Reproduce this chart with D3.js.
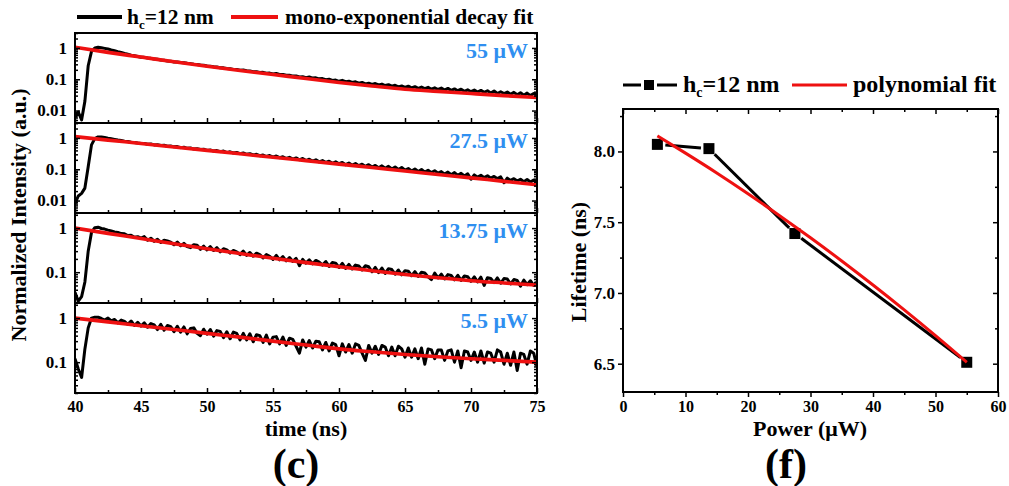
<!DOCTYPE html>
<html>
<head>
<meta charset="utf-8">
<script src="https://cdn.jsdelivr.net/npm/d3@7"></script>
<style>
  html, body { margin: 0; padding: 0; background: #fff; }
  svg text { font-family: "Liberation Serif", "Times New Roman", serif; font-weight: bold; }
</style>
</head>
<body>
<svg id="chart" width="1009" height="486"></svg>
<script>
// ---------------- data ----------------
// TCSPC histogram bins: first bin at 40 ns, 0.25 ns per bin (141 bins to 75 ns)
const decayStart = 40;
const decayStep = 0.25;

const powerLabels = ["55 μW", "27.5 μW", "13.75 μW", "5.5 μW"];

// normalized PL decay, h_c = 12 nm, excitation 55 μW
const decay55 = [
  0.006, 0.009, 0.005, 0.02, 0.27, 0.78, 1.0, 1.05,
  1.02, 0.97, 0.92, 0.86, 0.81, 0.76, 0.72, 0.67, 0.63, 0.59, 0.56, 0.53, 0.50,
  0.50, 0.475, 0.465, 0.44, 0.435, 0.41, 0.405, 0.385, 0.378, 0.356,
  0.358, 0.342, 0.336, 0.322, 0.316, 0.301, 0.296, 0.283, 0.278, 0.264,
  0.262, 0.249, 0.246, 0.234, 0.231, 0.219, 0.218, 0.206, 0.204, 0.194,
  0.196, 0.186, 0.185, 0.175, 0.175, 0.165, 0.166, 0.156, 0.157, 0.147,
  0.152, 0.143, 0.143, 0.134, 0.135, 0.126, 0.128, 0.118, 0.120, 0.112,
  0.118, 0.109, 0.111, 0.103, 0.105, 0.097, 0.100, 0.091, 0.094, 0.086,
  0.092, 0.084, 0.087, 0.079, 0.083, 0.075, 0.079, 0.071, 0.075, 0.068,
  0.073, 0.066, 0.070, 0.063, 0.067, 0.060, 0.064, 0.057, 0.061, 0.055,
  0.060, 0.053, 0.058, 0.051, 0.056, 0.050, 0.055, 0.048, 0.053, 0.047,
  0.052, 0.045, 0.051, 0.044, 0.049, 0.043, 0.048, 0.041, 0.046, 0.040,
  0.045, 0.039, 0.044, 0.038, 0.043, 0.036, 0.042, 0.035, 0.040, 0.035,
  0.039, 0.033, 0.038, 0.032, 0.037, 0.031, 0.036, 0.030, 0.035, 0.030
];

// 27.5 μW
const decay27 = [
  0.008, 0.014, 0.017, 0.025, 0.12, 0.6, 0.95, 1.08,
  1.07, 1.03, 0.98, 0.94, 0.90, 0.86, 0.83, 0.79, 0.77, 0.73, 0.72, 0.69, 0.67,
  0.67, 0.63, 0.645, 0.60, 0.61, 0.575, 0.585, 0.545, 0.555, 0.52,
  0.53, 0.49, 0.505, 0.465, 0.48, 0.44, 0.455, 0.425, 0.435, 0.40,
  0.415, 0.38, 0.395, 0.365, 0.38, 0.34, 0.36, 0.33, 0.345, 0.315,
  0.33, 0.30, 0.315, 0.285, 0.30, 0.27, 0.285, 0.255, 0.275, 0.245,
  0.265, 0.235, 0.25, 0.22, 0.24, 0.21, 0.23, 0.20, 0.22, 0.19,
  0.21, 0.18, 0.20, 0.172, 0.19, 0.165, 0.18, 0.155, 0.172, 0.15,
  0.165, 0.14, 0.158, 0.135, 0.152, 0.13, 0.145, 0.123, 0.14, 0.118,
  0.132, 0.112, 0.128, 0.107, 0.124, 0.102, 0.118, 0.098, 0.114, 0.094,
  0.105, 0.088, 0.102, 0.085, 0.098, 0.081, 0.093, 0.078, 0.090, 0.075,
  0.084, 0.070, 0.081, 0.067, 0.078, 0.064, 0.074, 0.061, 0.071, 0.048,
  0.066, 0.056, 0.064, 0.054, 0.062, 0.052, 0.059, 0.050, 0.057, 0.037,
  0.052, 0.044, 0.050, 0.042, 0.048, 0.040, 0.047, 0.039, 0.045, 0.037
];

// 13.75 μW
const decay13 = [
  0.035, 0.022, 0.028, 0.06, 0.3, 0.8, 1.02, 1.05,
  0.98, 0.95, 0.90, 0.86, 0.82, 0.80, 0.75, 0.74, 0.68, 0.69, 0.62, 0.64, 0.59,
  0.64, 0.53, 0.59, 0.50, 0.56, 0.47, 0.53, 0.51, 0.48, 0.42,
  0.48, 0.40, 0.45, 0.38, 0.36, 0.42, 0.41, 0.33, 0.39, 0.32,
  0.38, 0.31, 0.36, 0.29, 0.34, 0.32, 0.27, 0.31, 0.29, 0.25,
  0.30, 0.24, 0.28, 0.23, 0.27, 0.25, 0.21, 0.25, 0.23, 0.195,
  0.24, 0.19, 0.225, 0.18, 0.215, 0.175, 0.205, 0.14, 0.195, 0.16,
  0.19, 0.155, 0.185, 0.17, 0.145, 0.175, 0.135, 0.165, 0.16, 0.128,
  0.158, 0.122, 0.15, 0.118, 0.145, 0.138, 0.112, 0.14, 0.133, 0.102,
  0.128, 0.098, 0.124, 0.094, 0.12, 0.115, 0.09, 0.112, 0.087, 0.108,
  0.105, 0.083, 0.103, 0.08, 0.10, 0.096, 0.078, 0.068, 0.095, 0.074,
  0.09, 0.07, 0.088, 0.084, 0.067, 0.085, 0.065, 0.082, 0.079, 0.062,
  0.078, 0.06, 0.077, 0.05, 0.075, 0.072, 0.058, 0.074, 0.056, 0.072,
  0.07, 0.054, 0.068, 0.065, 0.048, 0.066, 0.052, 0.064, 0.05, 0.06
];

// 5.5 μW
const decay5 = [
  0.12, 0.07, 0.045, 0.2, 0.6, 1.0, 1.05, 1.05,
  0.98, 0.90, 1.0, 0.86, 0.93, 0.78, 0.90, 0.84, 0.72, 0.86, 0.68, 0.80, 0.66,
  0.78, 0.62, 0.75, 0.70, 0.55, 0.72, 0.53, 0.68, 0.64, 0.49,
  0.65, 0.48, 0.63, 0.44, 0.58, 0.60, 0.45, 0.40, 0.56, 0.43,
  0.55, 0.39, 0.52, 0.50, 0.36, 0.49, 0.34, 0.48, 0.45, 0.32,
  0.45, 0.32, 0.44, 0.29, 0.42, 0.40, 0.28, 0.41, 0.26, 0.37,
  0.38, 0.26, 0.37, 0.24, 0.35, 0.33, 0.23, 0.16, 0.32, 0.22,
  0.31, 0.21, 0.30, 0.29, 0.19, 0.28, 0.18, 0.27, 0.25, 0.14,
  0.26, 0.17, 0.25, 0.16, 0.26, 0.24, 0.16, 0.11, 0.24, 0.16,
  0.23, 0.15, 0.24, 0.22, 0.14, 0.22, 0.14, 0.23, 0.20, 0.13,
  0.21, 0.13, 0.20, 0.12, 0.21, 0.09, 0.20, 0.19, 0.12, 0.19,
  0.19, 0.11, 0.18, 0.19, 0.10, 0.18, 0.075, 0.18, 0.17, 0.11,
  0.17, 0.10, 0.18, 0.095, 0.17, 0.16, 0.10, 0.19, 0.17, 0.09,
  0.16, 0.085, 0.17, 0.065, 0.16, 0.15, 0.09, 0.18, 0.16, 0.08
];

// mono-exponential decay fits, sampled every 2.5 ns
const fitTime = [40, 42.5, 45, 47.5, 50, 52.5, 55, 57.5, 60, 62.5, 65, 67.5, 70, 72.5, 75];
const fit55 = [1.05, 0.72, 0.51, 0.36, 0.26, 0.19, 0.142, 0.105, 0.079, 0.061, 0.048, 0.041, 0.035, 0.030, 0.026];
const fit27 = [1.10, 0.853, 0.664, 0.515, 0.400, 0.311, 0.242, 0.188, 0.146, 0.113, 0.088, 0.068, 0.053, 0.041, 0.032];
const fit13 = [1.0, 0.76, 0.58, 0.44, 0.34, 0.265, 0.207, 0.165, 0.133, 0.108, 0.089, 0.075, 0.064, 0.057, 0.051];
const fit5  = [1.0, 0.82, 0.67, 0.55, 0.45, 0.37, 0.30, 0.245, 0.20, 0.172, 0.15, 0.133, 0.12, 0.11, 0.10];

const timeTicks = [40, 45, 50, 55, 60, 65, 70, 75];
const timeMinorTicks = [42.5, 47.5, 52.5, 57.5, 62.5, 67.5, 72.5];

// lifetime vs excitation power
const power = [5.5, 13.75, 27.5, 55];
const lifetime = [8.05, 8.02, 7.42, 6.51];
const polyPower = [5.5, 10, 15, 20, 25, 30, 35, 40, 45, 50, 55];
const polyLifetime = [8.11, 7.988, 7.848, 7.701, 7.548, 7.390, 7.226, 7.056, 6.880, 6.698, 6.51];

const powerTicks = [0, 10, 20, 30, 40, 50, 60];
const powerMinorTicks = [5, 15, 25, 35, 45, 55];
const lifetimeTicks = [6.5, 7.0, 7.5, 8.0];
const lifetimeMinorTicks = [6.75, 7.25, 7.75, 8.25];

// ---------------- drawing ----------------
const FONT = '"Liberation Serif", "Times New Roman", serif';
const RED = "#ee1111";
const BLUE = "#2f8ff0";
const svg = d3.select("#chart");

function styleAxis(g, size) {
  g.attr("font-family", FONT).attr("font-size", size).attr("font-weight", "bold");
  g.select(".domain").remove();
  g.selectAll(".tick line").attr("stroke", "#000").attr("stroke-width", 1.5);
  g.selectAll(".tick text").attr("fill", "#000");
}

// ---- left: stacked decay panels ----
const left = { x0: 75, x1: 537, top: 33, h: 90 };
const tx = d3.scaleLinear().domain([40, 75]).range([left.x0, left.x1]);

const panels = [
  { label: powerLabels[0], data: decay55, fit: fit55, dom: [0.004, 3],   major: [0.01, 0.1, 1] },
  { label: powerLabels[1], data: decay27, fit: fit27, dom: [0.004, 3],   major: [0.01, 0.1, 1] },
  { label: powerLabels[2], data: decay13, fit: fit13, dom: [0.02, 2.2],  major: [0.1, 1] },
  { label: powerLabels[3], data: decay5,  fit: fit5,  dom: [0.02, 2.2],  major: [0.1, 1] }
];

const defs = svg.append("defs");

panels.forEach((p, i) => {
  const top = left.top + i * left.h;
  const bot = top + left.h;
  const y = d3.scaleLog().domain(p.dom).range([bot, top]);

  // log minor ticks inside the domain
  const minor = [];
  for (let k = Math.floor(Math.log10(p.dom[0])); k <= Math.ceil(Math.log10(p.dom[1])); k++) {
    for (let m = 2; m <= 9; m++) {
      const v = m * Math.pow(10, k);
      if (v >= p.dom[0] && v <= p.dom[1]) minor.push(v);
    }
  }

  const cid = "panel-clip-" + i;
  defs.append("clipPath").attr("id", cid)
    .append("rect").attr("x", left.x0).attr("y", top)
    .attr("width", left.x1 - left.x0).attr("height", left.h);

  const plot = svg.append("g").attr("clip-path", `url(#${cid})`);

  plot.append("path")
    .datum(p.data)
    .attr("fill", "none")
    .attr("stroke", "#000")
    .attr("stroke-width", 3)
    .attr("stroke-linejoin", "round")
    .attr("d", d3.line()
      .x((d, k) => tx(decayStart + k * decayStep))
      .y(d => y(d)));

  plot.append("path")
    .datum(fitTime.map((t, k) => [t, p.fit[k]]))
    .attr("fill", "none")
    .attr("stroke", RED)
    .attr("stroke-width", 3.6)
    .attr("d", d3.line().curve(d3.curveMonotoneX)
      .x(d => tx(d[0]))
      .y(d => y(d[1])));

  // y axis (left, ticks inward)
  const yl = svg.append("g").attr("transform", `translate(${left.x0},0)`)
    .call(d3.axisLeft(y).tickValues(p.major).tickSize(-5).tickPadding(8)
      .tickFormat(d => d >= 1 ? "1" : String(d)));
  styleAxis(yl, 17);
  const ylm = svg.append("g").attr("transform", `translate(${left.x0},0)`)
    .call(d3.axisLeft(y).tickValues(minor).tickSize(-3).tickFormat(""));
  styleAxis(ylm, 17);

  // right side mirror ticks
  const yr = svg.append("g").attr("transform", `translate(${left.x1},0)`)
    .call(d3.axisRight(y).tickValues(p.major).tickSize(-5).tickFormat(""));
  styleAxis(yr, 17);
  const yrm = svg.append("g").attr("transform", `translate(${left.x1},0)`)
    .call(d3.axisRight(y).tickValues(minor).tickSize(-3).tickFormat(""));
  styleAxis(yrm, 17);

  // x axis at the bottom of each panel (ticks inward)
  const xa = svg.append("g").attr("transform", `translate(0,${bot})`)
    .call(d3.axisBottom(tx).tickValues(timeTicks).tickSize(-5).tickPadding(8)
      .tickFormat(i === panels.length - 1 ? d3.format("d") : ""));
  styleAxis(xa, 16);
  const xm = svg.append("g").attr("transform", `translate(0,${bot})`)
    .call(d3.axisBottom(tx).tickValues(timeMinorTicks).tickSize(-3).tickFormat(""));
  styleAxis(xm, 16);

  // frame
  svg.append("rect")
    .attr("x", left.x0).attr("y", top)
    .attr("width", left.x1 - left.x0).attr("height", left.h)
    .attr("fill", "none").attr("stroke", "#000").attr("stroke-width", 2);

  // excitation power label
  svg.append("text")
    .attr("x", 528).attr("y", top + 25)
    .attr("text-anchor", "end")
    .attr("font-size", 22)
    .attr("fill", BLUE)
    .text(p.label);
});

// left legend
svg.append("line").attr("x1", 77).attr("x2", 122).attr("y1", 17).attr("y2", 17)
  .attr("stroke", "#000").attr("stroke-width", 4);
const lg1 = svg.append("text").attr("x", 127).attr("y", 24).attr("font-size", 21.5);
lg1.append("tspan").text("h");
lg1.append("tspan").attr("font-size", 13).attr("dy", 5).text("c");
lg1.append("tspan").attr("dy", -5).text("=12 nm");
svg.append("line").attr("x1", 231).attr("x2", 278).attr("y1", 17).attr("y2", 17)
  .attr("stroke", RED).attr("stroke-width", 4);
svg.append("text").attr("x", 285).attr("y", 24).attr("font-size", 21.5)
  .text("mono-exponential decay fit");

// left axis titles
svg.append("text")
  .attr("transform", "translate(26,215) rotate(-90)")
  .attr("text-anchor", "middle").attr("font-size", 22)
  .text("Normalized Intensity (a.u.)");
svg.append("text").attr("x", 306).attr("y", 436)
  .attr("text-anchor", "middle").attr("font-size", 22).text("time (ns)");
svg.append("text").attr("x", 296).attr("y", 478)
  .attr("text-anchor", "middle").attr("font-size", 42).text("(c)");

// ---- right: lifetime vs power ----
const R = { x0: 623, x1: 998, top: 109, bot: 392 };
const px = d3.scaleLinear().domain([0, 60]).range([R.x0, R.x1]);
const py = d3.scaleLinear().domain([6.3, 8.3]).range([R.bot, R.top]);

const ra = svg.append("g").attr("transform", `translate(${R.x0},0)`)
  .call(d3.axisLeft(py).tickValues(lifetimeTicks).tickSize(5).tickPadding(3).tickFormat(d3.format(".1f")));
styleAxis(ra, 17);
const ram = svg.append("g").attr("transform", `translate(${R.x0},0)`)
  .call(d3.axisLeft(py).tickValues(lifetimeMinorTicks).tickSize(3).tickFormat(""));
styleAxis(ram, 17);
const rr = svg.append("g").attr("transform", `translate(${R.x1},0)`)
  .call(d3.axisRight(py).tickValues(lifetimeTicks).tickSize(-5).tickFormat(""));
styleAxis(rr, 17);
const rrm = svg.append("g").attr("transform", `translate(${R.x1},0)`)
  .call(d3.axisRight(py).tickValues(lifetimeMinorTicks).tickSize(-3).tickFormat(""));
styleAxis(rrm, 17);
const rb = svg.append("g").attr("transform", `translate(0,${R.bot})`)
  .call(d3.axisBottom(px).tickValues(powerTicks).tickSize(5).tickPadding(4).tickFormat(d3.format("d")));
styleAxis(rb, 16);
const rbm = svg.append("g").attr("transform", `translate(0,${R.bot})`)
  .call(d3.axisBottom(px).tickValues(powerMinorTicks).tickSize(3).tickFormat(""));
styleAxis(rbm, 16);
const rt = svg.append("g").attr("transform", `translate(0,${R.top})`)
  .call(d3.axisTop(px).tickValues(powerTicks).tickSize(-5).tickFormat(""));
styleAxis(rt, 16);
const rtm = svg.append("g").attr("transform", `translate(0,${R.top})`)
  .call(d3.axisTop(px).tickValues(powerMinorTicks).tickSize(-3).tickFormat(""));
styleAxis(rtm, 16);

svg.append("rect")
  .attr("x", R.x0).attr("y", R.top)
  .attr("width", R.x1 - R.x0).attr("height", R.bot - R.top)
  .attr("fill", "none").attr("stroke", "#000").attr("stroke-width", 2);

// connecting segments stop short of each square marker
const pts = power.map((p, k) => [px(p), py(lifetime[k])]);
const gap = 8;
const segs = d3.pairs(pts).map(([a, b]) => {
  const dx = b[0] - a[0], dy = b[1] - a[1];
  const len = Math.hypot(dx, dy);
  const ux = dx / len, uy = dy / len;
  return [[a[0] + ux * gap, a[1] + uy * gap], [b[0] - ux * gap, b[1] - uy * gap]];
});
svg.selectAll("line.seg").data(segs).enter().append("line")
  .attr("class", "seg")
  .attr("x1", d => d[0][0]).attr("y1", d => d[0][1])
  .attr("x2", d => d[1][0]).attr("y2", d => d[1][1])
  .attr("stroke", "#000").attr("stroke-width", 3);
svg.selectAll("rect.marker").data(pts).enter().append("rect")
  .attr("class", "marker")
  .attr("x", d => d[0] - 5.5).attr("y", d => d[1] - 5.5)
  .attr("width", 11).attr("height", 11).attr("fill", "#000");
svg.append("path").datum(polyPower.map((p, k) => [p, polyLifetime[k]]))
  .attr("fill", "none").attr("stroke", RED).attr("stroke-width", 3)
  .attr("d", d3.line().curve(d3.curveMonotoneX).x(d => px(d[0])).y(d => py(d[1])));

// right legend
svg.append("line").attr("x1", 623).attr("x2", 641).attr("y1", 85).attr("y2", 85)
  .attr("stroke", "#000").attr("stroke-width", 3);
svg.append("line").attr("x1", 657).attr("x2", 677).attr("y1", 85).attr("y2", 85)
  .attr("stroke", "#000").attr("stroke-width", 3);
svg.append("rect").attr("x", 644).attr("y", 80).attr("width", 10).attr("height", 10).attr("fill", "#000");
const lg2 = svg.append("text").attr("x", 683).attr("y", 92).attr("font-size", 24);
lg2.append("tspan").text("h");
lg2.append("tspan").attr("font-size", 14).attr("dy", 5).text("c");
lg2.append("tspan").attr("dy", -5).text("=12 nm");
svg.append("line").attr("x1", 792).attr("x2", 847).attr("y1", 85).attr("y2", 85)
  .attr("stroke", RED).attr("stroke-width", 3);
svg.append("text").attr("x", 853).attr("y", 92).attr("font-size", 24).text("polynomial fit");

// right axis titles
svg.append("text")
  .attr("transform", "translate(586,262) rotate(-90)")
  .attr("text-anchor", "middle").attr("font-size", 22)
  .text("Lifetime (ns)");
svg.append("text").attr("x", 810).attr("y", 436)
  .attr("text-anchor", "middle").attr("font-size", 22).text("Power (μW)");
svg.append("text").attr("x", 786).attr("y", 478)
  .attr("text-anchor", "middle").attr("font-size", 42).text("(f)");
</script>
</body>
</html>
